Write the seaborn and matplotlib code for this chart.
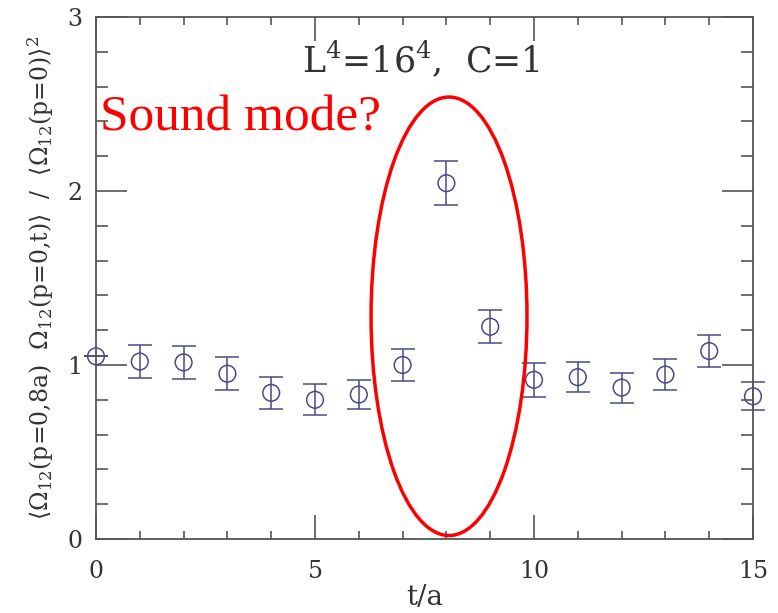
import numpy as np
import pandas as pd
import matplotlib
matplotlib.use("Agg")
import matplotlib.pyplot as plt
from matplotlib.patches import Ellipse
from matplotlib.ticker import MultipleLocator
import seaborn as sns

# Correlator ratio versus Euclidean time separation
t_over_a = [0, 1, 2, 3, 4, 5, 6, 7, 8, 9, 10, 11, 12, 13, 14, 15]
ratio = [1.05, 1.02, 1.015, 0.95, 0.84, 0.80, 0.83, 1.00, 2.045,
         1.22, 0.915, 0.93, 0.87, 0.945, 1.08, 0.82]
ratio_err = [0.0, 0.095, 0.095, 0.095, 0.09, 0.09, 0.083, 0.094, 0.125,
             0.094, 0.097, 0.087, 0.086, 0.09, 0.093, 0.08]
x_ticks = [0, 5, 10, 15]
y_ticks = [0, 1, 2, 3]

df = pd.DataFrame({"t": t_over_a, "r": ratio, "err": ratio_err})

sns.set_theme(style="ticks")
plt.rcParams["font.family"] = ["DejaVu Serif"]
plt.rcParams["mathtext.fontset"] = "dejavuserif"

axis_grey = "#555555"
mark_col = "#4a4a85"

fig = plt.figure(figsize=(7.78, 6.13), dpi=100)
ax = fig.add_axes([96 / 778, 1 - 539 / 613, (753 - 96) / 778, (539 - 17) / 613])

ax.errorbar(df["t"], df["r"], yerr=df["err"], fmt="none", ecolor=mark_col,
            elinewidth=1.1, capsize=8.5, capthick=1.1, zorder=2, clip_on=False)
sns.scatterplot(data=df, x="t", y="r", ax=ax, marker="o", s=145,
                facecolor="none", edgecolor=mark_col, linewidth=1.1,
                zorder=3, clip_on=False, legend=False)

ax.set_xlim(0, 15)
ax.set_ylim(0, 3)
ax.set_xticks(x_ticks)
ax.set_yticks(y_ticks)
ax.xaxis.set_minor_locator(MultipleLocator(1))
ax.yaxis.set_minor_locator(MultipleLocator(0.2))

for s in ax.spines.values():
    s.set_visible(True)
    s.set_color(axis_grey)
    s.set_linewidth(1.3)

ax.tick_params(axis="both", which="both", direction="in", top=True, right=True,
               color=axis_grey, width=1.2, labelcolor="#333333")
ax.tick_params(axis="x", which="major", length=17, pad=15, labelsize=17)
ax.tick_params(axis="x", which="minor", length=6)
ax.tick_params(axis="y", which="major", length=22, pad=10, labelsize=17)
ax.tick_params(axis="y", which="minor", length=8.5)

ax.set_xlabel("t/a", fontsize=20, color="#333333", labelpad=1)
ax.set_ylabel(r"$\langle\Omega_{12}$(p=0,8a)  $\Omega_{12}$(p=0,t)$\rangle$  /  "
              r"$\langle\Omega_{12}$(p=0)$\rangle^2$",
              fontsize=17, color="#333333", labelpad=8)

ax.text(4.7, 2.68, r"L$^4$=16$^4$,  C=1", fontsize=25, color="#333333",
        ha="left", va="baseline")

ax.text(0.09, 2.35, "Sound mode?", fontsize=37, color="#ff0000",
        family=["Liberation Serif"], ha="left", va="baseline", zorder=5)

ax.add_patch(Ellipse((8.06, 1.28), width=3.56, height=2.52, fill=False,
                     edgecolor="#ff0000", linewidth=2.5, zorder=4, clip_on=False))

fig.savefig("out.png", dpi=100)
